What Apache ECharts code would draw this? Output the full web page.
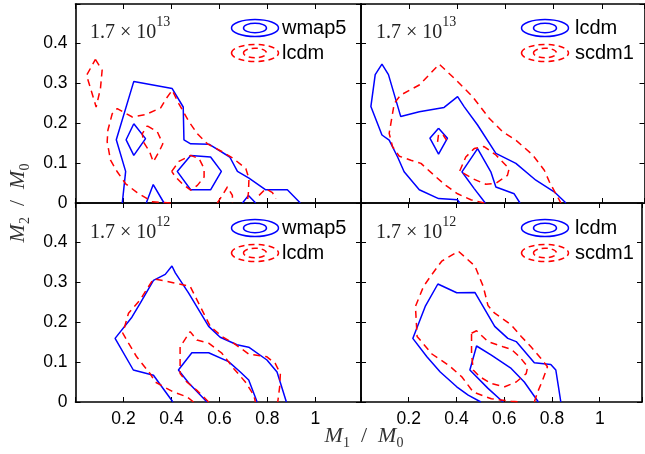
<!DOCTYPE html>
<html>
<head>
<meta charset="utf-8">
<script src="https://cdn.jsdelivr.net/npm/echarts@6/dist/echarts.min.js"></script>
<style>html,body{margin:0;padding:0;background:#fff}#c{width:645px;height:454px}</style>
</head>
<body>
<div id="c"></div>
<script>
// ---------- tick labels ----------
const xTicks = [0.2, 0.4, 0.6, 0.8, 1];
const yTicks = [0, 0.1, 0.2, 0.3, 0.4];

// ---------- panel texts ----------
const panelMass = ['13', '13', '12', '12'];
const legendNames = [['wmap5', 'lcdm'], ['lcdm', 'scdm1'], ['wmap5', 'lcdm'], ['lcdm', 'scdm1']];

// ---------- top-left: wmap5 (blue) vs lcdm (red), 1.7e13 ----------
const tlBlueOuter = [[0.195,0],[0.209,0.079],[0.170,0.158],[0.243,0.304],[0.403,0.286],[0.449,0.240],[0.452,0.158],[0.480,0.148],[0.556,0.147],[0.643,0.115],[0.675,0.079],[0.723,0.062],[0.793,0.033],[0.883,0.033],[0.937,0]];
const tlBlueDiamond = [[0.243,0.198],[0.292,0.161],[0.243,0.119],[0.211,0.158],[0.243,0.198]];
const tlBlueHex = [[0.480,0.119],[0.563,0.115],[0.608,0.079],[0.563,0.033],[0.480,0.033],[0.424,0.079],[0.480,0.119]];
const tlBlueTri1 = [[0.295,0],[0.324,0.046],[0.369,0]];
const tlBlueTri2 = [[0.696,0],[0.721,0.019],[0.751,0]];
const tlRedTop = [[0.083,0.359],[0.111,0.332],[0.104,0.286],[0.086,0.240],[0.063,0.286],[0.046,0.319],[0.083,0.359]];
const tlRedOuter = [[0.397,0],[0.320,0.003],[0.257,0.026],[0.209,0.048],[0.174,0.078],[0.146,0.107],[0.132,0.153],[0.135,0.182],[0.153,0.223],[0.174,0.236],[0.237,0.215],[0.292,0.221],[0.355,0.238],[0.378,0.261],[0.403,0.282],[0.431,0.248],[0.473,0.203],[0.508,0.173],[0.550,0.148],[0.612,0.128],[0.654,0.113],[0.710,0.086],[0.723,0.061],[0.721,0.028],[0.716,0]];
const tlRedInnerL = [[0.299,0.193],[0.341,0.178],[0.364,0.148],[0.348,0.128],[0.324,0.103],[0.309,0.128],[0.285,0.151],[0.278,0.173],[0.299,0.193]];
const tlRedInnerR = [[0.401,0.079],[0.431,0.104],[0.480,0.119],[0.515,0.111],[0.536,0.086],[0.536,0.065],[0.508,0.044],[0.480,0.032],[0.445,0.048],[0.417,0.065],[0.401,0.079]];
const tlRedArc1 = [[0.591,0],[0.612,0.019],[0.633,0.040],[0.654,0.019],[0.654,0]];
const tlRedArc2 = [[0.765,0.019],[0.793,0.036],[0.821,0.026],[0.835,0.011]];

// ---------- top-right: lcdm (blue) vs scdm1 (red), 1.7e13 ----------
const trBlueOuter = [[0.410,0],[0.401,0.008],[0.322,0.011],[0.242,0.033],[0.179,0.078],[0.152,0.115],[0.117,0.157],[0.087,0.170],[0.041,0.241],[0.059,0.321],[0.087,0.347],[0.114,0.321],[0.165,0.216],[0.242,0.228],[0.345,0.239],[0.401,0.266],[0.428,0.241],[0.484,0.195],[0.560,0.124],[0.643,0.099],[0.726,0.057],[0.802,0.028],[0.851,0]];
const trBlueDiamond = [[0.322,0.187],[0.359,0.162],[0.322,0.122],[0.286,0.162],[0.322,0.187]];
const trBlueInner = [[0.516,0],[0.470,0.036],[0.419,0.078],[0.484,0.136],[0.539,0.078],[0.560,0.040],[0.636,0.023],[0.660,0]];
const trRedOuter = [[0.512,0],[0.456,0.008],[0.401,0.023],[0.352,0.044],[0.304,0.069],[0.249,0.099],[0.207,0.107],[0.159,0.117],[0.131,0.141],[0.117,0.174],[0.138,0.249],[0.165,0.270],[0.242,0.295],[0.325,0.347],[0.394,0.308],[0.463,0.266],[0.532,0.212],[0.588,0.178],[0.643,0.157],[0.713,0.120],[0.761,0.082],[0.782,0.053],[0.809,0.023],[0.830,0]];
const trRedSmall = [[0.318,0.153],[0.322,0.172],[0.341,0.170],[0.355,0.157]];
const trRedInner = [[0.410,0.080],[0.435,0.115],[0.470,0.136],[0.511,0.141],[0.560,0.120],[0.615,0.086],[0.608,0.069],[0.560,0.049],[0.518,0.047],[0.463,0.061],[0.410,0.080]];

// ---------- bottom-left: wmap5 (blue) vs lcdm (red), 1.7e12 ----------
const blBlueOuter = [[0.406,0],[0.325,0.067],[0.241,0.080],[0.165,0.159],[0.235,0.212],[0.270,0.247],[0.325,0.304],[0.374,0.319],[0.402,0.340],[0.416,0.323],[0.471,0.273],[0.555,0.189],[0.603,0.162],[0.673,0.143],[0.722,0.137],[0.798,0.105],[0.840,0.075],[0.879,0]];
const blBlueInner = [[0.548,0],[0.471,0.048],[0.429,0.080],[0.485,0.123],[0.555,0.123],[0.638,0.101],[0.687,0.075],[0.722,0.055],[0.757,0]];
const blRedOuter = [[0.492,0],[0.464,0.013],[0.408,0.025],[0.332,0.050],[0.311,0.071],[0.255,0.113],[0.221,0.147],[0.197,0.172],[0.221,0.222],[0.270,0.256],[0.325,0.308],[0.402,0.299],[0.478,0.289],[0.520,0.239],[0.562,0.189],[0.610,0.164],[0.659,0.147],[0.722,0.120],[0.798,0.113],[0.833,0.096],[0.854,0.071],[0.851,0.038],[0.843,0]];
const blRedInner = [[0.555,0],[0.506,0.029],[0.464,0.050],[0.436,0.071],[0.436,0.138],[0.478,0.176],[0.506,0.155],[0.555,0.147],[0.610,0.122],[0.659,0.084],[0.708,0.050],[0.743,0.017],[0.750,0]];

// ---------- bottom-right: lcdm (blue) vs scdm1 (red), 1.7e12 ----------
const brBlueOuter = [[0.502,0],[0.449,0.017],[0.401,0.038],[0.332,0.075],[0.276,0.113],[0.217,0.159],[0.269,0.239],[0.322,0.295],[0.401,0.273],[0.477,0.274],[0.560,0.189],[0.615,0.159],[0.650,0.151],[0.726,0.098],[0.795,0.094],[0.816,0.080],[0.826,0.042],[0.837,0]];
const brBlueInner = [[0.595,0],[0.532,0.034],[0.456,0.080],[0.484,0.140],[0.546,0.117],[0.629,0.084],[0.684,0.050],[0.743,0]];
const brRedOuter = [[0.726,0],[0.740,0.025],[0.761,0.055],[0.781,0.088],[0.754,0.109],[0.712,0.138],[0.671,0.164],[0.629,0.193],[0.560,0.222],[0.532,0.241],[0.512,0.289],[0.477,0.340],[0.408,0.377],[0.338,0.352],[0.297,0.319],[0.262,0.289],[0.228,0.239],[0.235,0.164],[0.297,0.120],[0.367,0.092],[0.422,0.063],[0.470,0.025],[0.546,0.008],[0.629,0.002],[0.671,0]];
const brRedInner = [[0.463,0.172],[0.484,0.178],[0.532,0.151],[0.595,0.138],[0.629,0.132],[0.664,0.113],[0.698,0.088],[0.692,0.071],[0.650,0.050],[0.602,0.038],[0.546,0.046],[0.498,0.063],[0.470,0.080],[0.463,0.122],[0.463,0.172]];

const panelBlue = [
  [tlBlueOuter, tlBlueDiamond, tlBlueHex, tlBlueTri1, tlBlueTri2],
  [trBlueOuter, trBlueDiamond, trBlueInner],
  [blBlueOuter, blBlueInner],
  [brBlueOuter, brBlueInner]
];
const panelRed = [
  [tlRedTop, tlRedOuter, tlRedInnerL, tlRedInnerR, tlRedArc1, tlRedArc2],
  [trRedOuter, trRedSmall, trRedInner],
  [blRedOuter, blRedInner],
  [brRedOuter, brRedInner]
];

// ---------- layout ----------
const xMax = [1.19, 1.177, 1.19, 1.177];
const yMax = 0.4975;
const grids = [
  {left: 75.5, top: 4, width: 285.5, height: 199},
  {left: 361, top: 4, width: 283.5, height: 199},
  {left: 75.5, top: 203, width: 285.5, height: 199},
  {left: 361, top: 203, width: 283.5, height: 199}
];
const BLUE = '#0000ff', RED = '#ff0000';
const tickFont = {fontFamily: 'Liberation Sans', fontSize: 17.5, color: '#000'};

function near(v, arr) { return arr.some(t => Math.abs(t - v) < 1e-6); }

const xAxes = [], yAxes = [];
for (let pos of ['bottom', 'top']) {
  for (let i = 0; i < 4; i++) {
    const showLab = pos === 'bottom' && i >= 2;
    xAxes.push({
      type: 'value', gridIndex: i, position: pos, min: 0, max: xMax[i], interval: 0.2,
      axisLine: {show: true, onZero: false, lineStyle: {color: '#000', width: 1.6}},
      axisTick: {show: true, inside: true, length: 5, lineStyle: {color: '#000', width: 1}},
      splitLine: {show: false},
      axisLabel: Object.assign({show: showLab, margin: 8, showMinLabel: true, showMaxLabel: true,
        formatter: v => near(v, xTicks) ? String(+v.toFixed(1)) : ''}, tickFont)
    });
  }
}
for (let pos of ['left', 'right']) {
  for (let i = 0; i < 4; i++) {
    const showLab = pos === 'left' && (i === 0 || i === 2);
    yAxes.push({
      type: 'value', gridIndex: i, position: pos, min: 0, max: yMax, interval: 0.1,
      axisLine: {show: true, onZero: false, lineStyle: {color: '#000', width: 1.6}},
      axisTick: {show: true, inside: true, length: 5, lineStyle: {color: '#000', width: 1}},
      splitLine: {show: false},
      axisLabel: Object.assign({show: showLab, margin: 8, showMinLabel: true, showMaxLabel: true,
        formatter: v => near(v, yTicks) ? String(+v.toFixed(1)) : ''}, tickFont)
    });
  }
}

const series = [];
for (let i = 0; i < 4; i++) {
  panelBlue[i].forEach(d => series.push({
    type: 'line', xAxisIndex: i, yAxisIndex: i, data: d, showSymbol: false, symbol: 'none',
    silent: true, z: 3, lineStyle: {color: BLUE, width: 1.5}
  }));
  panelRed[i].forEach(d => series.push({
    type: 'line', xAxisIndex: i, yAxisIndex: i, data: d, showSymbol: false, symbol: 'none',
    silent: true, z: 4, lineStyle: {color: RED, width: 1.5, type: [7, 5]}
  }));
}

// ---------- graphics: legends, annotations, axis titles ----------
const graphic = [];
const annX = [90, 376, 90, 376];
const legIconX = [255, 545, 255, 545];
const legTextX = [282, 575, 282, 575];
const rowY = [28, 28, 228, 228];
for (let i = 0; i < 4; i++) {
  graphic.push({
    type: 'text', left: annX[i], top: rowY[i] - 15, z: 10,
    style: {
      text: '{a|1.7 × 10}{s|' + panelMass[i] + '}',
      rich: {
        a: {fontFamily: 'Liberation Serif', fontSize: 20, fill: '#222', lineHeight: 30, verticalAlign: 'bottom'},
        s: {fontFamily: 'Liberation Serif', fontSize: 14, fill: '#222', lineHeight: 30, verticalAlign: 'top', padding: [2, 0, 0, 0]}
      }
    }
  });
  const cx = legIconX[i];
  [[rowY[i], BLUE, null], [rowY[i] + 25, RED, [6, 4]]].forEach(([cy, col, dash]) => {
    graphic.push({type: 'ellipse', z: 10, shape: {cx: cx, cy: cy, rx: 23.5, ry: 8.5},
      style: {fill: 'none', stroke: col, lineWidth: 1.5, lineDash: dash}});
    graphic.push({type: 'ellipse', z: 10, shape: {cx: cx, cy: cy, rx: 11.5, ry: 4.8},
      style: {fill: 'none', stroke: col, lineWidth: 1.5, lineDash: dash}});
  });
  legendNames[i].forEach((nm, k) => graphic.push({
    type: 'text', z: 10, x: legTextX[i], y: rowY[i] + 25 * k,
    style: {text: nm, fontFamily: 'Liberation Sans', fontSize: 20, fill: '#000', verticalAlign: 'middle', align: 'left'}
  }));
}
const mathRich = {
  m: {fontFamily: 'Liberation Serif', fontStyle: 'italic', fontSize: 22, fill: '#333', lineHeight: 28, verticalAlign: 'middle'},
  s: {fontFamily: 'Liberation Serif', fontSize: 14, fill: '#333', lineHeight: 22, verticalAlign: 'bottom'},
  t: {fontFamily: 'Liberation Serif', fontSize: 22, fill: '#333', lineHeight: 28, verticalAlign: 'middle'}
};
graphic.push({
  type: 'text', z: 10, x: 364, y: 436,
  style: {text: '{m|M}{s|1}{t|  /  }{m|M}{s|0}', rich: mathRich, align: 'center', verticalAlign: 'middle'}
});
graphic.push({
  type: 'text', z: 10, x: 18, y: 203, rotation: Math.PI / 2,
  style: {text: '{m|M}{s|2}{t|  /  }{m|M}{s|0}', rich: mathRich, align: 'center', verticalAlign: 'middle'}
});

const chart = echarts.init(document.getElementById('c'), null, {renderer: 'canvas'});
chart.setOption({
  animation: false,
  backgroundColor: '#fff',
  grid: grids.map(g => Object.assign({show: false, containLabel: false}, g)),
  xAxis: xAxes,
  yAxis: yAxes,
  series: series,
  graphic: graphic
});
</script>
</body>
</html>
